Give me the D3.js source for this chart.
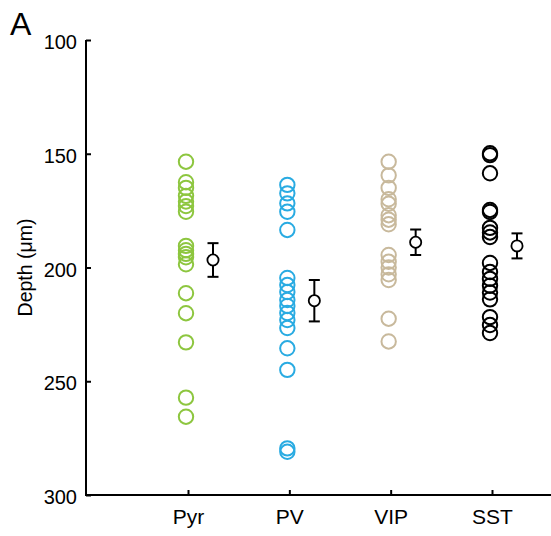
<!DOCTYPE html>
<html>
<head>
<meta charset="utf-8">
<script src="https://cdn.jsdelivr.net/npm/d3@7"></script>
<style>
  html, body { margin: 0; padding: 0; background: #fff; }
  svg { display: block; }
  text { font-family: "Liberation Sans", Arial, sans-serif; fill: #000; }
</style>
</head>
<body>
<svg id="chart" width="551" height="536"></svg>
<script>
// Cell classes along the x axis
const categories = ["Pyr", "PV", "VIP", "SST"];
const colors = ["#8dc63f", "#29abe2", "#c8b99c", "#000000"];

// Recording depth of each cell (µm)
const pyrDepths = [153.5, 162.5, 165, 168.5, 171, 173, 175.5, 190.5, 192.4, 194, 195.5, 198.6, 211.3, 220.1, 232.9, 257.2, 265.6];
const pvDepths  = [163.7, 167.4, 171.8, 175.5, 183.5, 204.6, 207.7, 210.8, 214.3, 216.9, 220, 223.1, 226.6, 235.5, 245, 279.5, 281];
const vipDepths = [153.5, 159.5, 165, 170, 172, 177, 179, 181, 194.5, 197.5, 200, 203, 205.5, 222.5, 232.5];
const sstDepths = [149.8, 150.6, 158.6, 174.7, 175.6, 182.6, 184.6, 186.6, 198, 202, 205, 208, 211, 214, 221.8, 225.3, 228.8];

// Group mean and SEM (µm)
const groupMeans = [196.7, 214.6, 188.9, 190.5];
const groupSems  = [7.4, 9.1, 5.6, 5.5];

// Axis ticks
const yTicks = [100, 150, 200, 250, 300];

const depthsByGroup = [pyrDepths, pvDepths, vipDepths, sstDepths];

const svg = d3.select("#chart");

const x = d3.scalePoint().domain(categories).range([188, 492]);
const y = d3.scaleLinear().domain([100, 300]).range([40, 495]);

const axisX0 = 86, axisY0 = 495;

// Y axis (ticks point inward)
const yAxis = svg.append("g").attr("transform", `translate(${axisX0},0)`)
  .call(d3.axisLeft(y).tickValues(yTicks).tickSizeInner(-5).tickSizeOuter(0).tickPadding(9));
yAxis.select(".domain").attr("stroke-width", 2).attr("d", `M0,${y(100)}V${axisY0}`);
yAxis.selectAll(".tick line").attr("stroke-width", 2);
yAxis.selectAll(".tick text")
  .attr("dy", "0.43em")
  .style("font-size", "20px")
  .style("font-family", "Liberation Sans, Arial, sans-serif");

// X axis baseline and inward ticks
const xAxis = svg.append("g").attr("transform", `translate(0,${axisY0})`)
  .call(d3.axisBottom(x).tickSizeInner(-5).tickSizeOuter(0));
xAxis.select(".domain").attr("stroke-width", 2).attr("d", `M${axisX0 - 1},0H551`);
xAxis.selectAll(".tick line").attr("stroke-width", 2);
xAxis.selectAll(".tick text")
  .attr("y", 29).attr("dy", 0)
  .style("font-size", "21px")
  .style("font-family", "Liberation Sans, Arial, sans-serif");

// Individual cells
categories.forEach((c, i) => {
  svg.append("g").selectAll("circle")
    .data(depthsByGroup[i])
    .join("circle")
    .attr("cx", x(c) - 2)
    .attr("cy", d => y(d))
    .attr("r", 7.2)
    .attr("fill", "none")
    .attr("stroke", colors[i])
    .attr("stroke-width", 2);
});

// Mean ± SEM
const summary = categories.map((c, i) => ({ c, m: groupMeans[i], s: groupSems[i] }));
const sg = svg.append("g");
summary.forEach(d => {
  const cx = x(d.c) + 25;
  const g = sg.append("g");
  g.append("line").attr("x1", cx).attr("x2", cx)
    .attr("y1", y(d.m - d.s)).attr("y2", y(d.m + d.s))
    .attr("stroke", "#000").attr("stroke-width", 2);
  [d.m - d.s, d.m + d.s].forEach(v => {
    g.append("line").attr("x1", cx - 5.5).attr("x2", cx + 5.5)
      .attr("y1", y(v)).attr("y2", y(v))
      .attr("stroke", "#000").attr("stroke-width", 2);
  });
  g.append("circle").attr("cx", cx).attr("cy", y(d.m)).attr("r", 5.6)
    .attr("fill", "#fff").attr("stroke", "#000").attr("stroke-width", 1.8);
});

// Y axis title
svg.append("text")
  .attr("transform", `translate(32,${y(200)}) rotate(-90)`)
  .attr("text-anchor", "middle")
  .style("font-size", "19.5px")
  .text("Depth (μm)");

// Panel letter
svg.append("text")
  .attr("x", 10).attr("y", 35)
  .style("font-size", "32px")
  .text("A");
</script>
</body>
</html>
